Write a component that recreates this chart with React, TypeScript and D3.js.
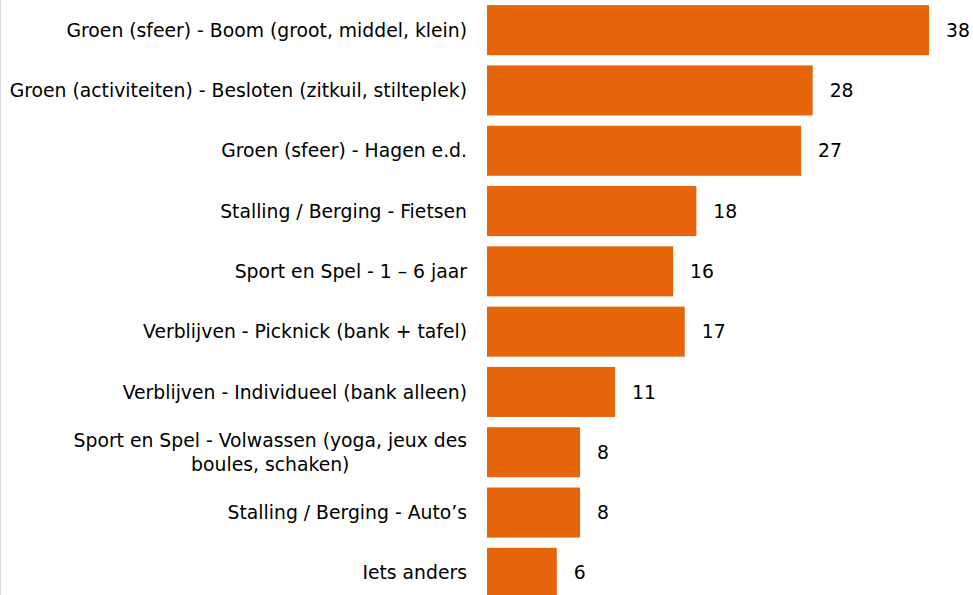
import React, { useEffect, useRef } from 'react';
import * as d3 from 'd3';

const categories: string[][] = [
  ['Groen (sfeer) - Boom (groot, middel, klein)'],
  ['Groen (activiteiten) - Besloten (zitkuil, stilteplek)'],
  ['Groen (sfeer) - Hagen e.d.'],
  ['Stalling / Berging - Fietsen'],
  ['Sport en Spel - 1 – 6 jaar'],
  ['Verblijven - Picknick (bank + tafel)'],
  ['Verblijven - Individueel (bank alleen)'],
  ['Sport en Spel - Volwassen (yoga, jeux des', 'boules, schaken)'],
  ['Stalling / Berging - Auto’s'],
  ['Iets anders'],
];
const values = [38, 28, 27, 18, 16, 17, 11, 8, 8, 6];

const W = 973;
const H = 595;

export default function App() {
  const svgRef = useRef<SVGSVGElement>(null);

  useEffect(() => {
    if (!svgRef.current) return;
    const svg = d3.select(svgRef.current);
    svg.selectAll('*').remove();

    const ids = d3.range(values.length).map(String);
    const y = d3.scaleBand().domain(ids).range([0, 603]).paddingInner(0.17).paddingOuter(0.085);
    const x = d3.scaleLinear().domain([0, 38]).range([487, 929]);

    const font = '"DejaVu Sans", Verdana, sans-serif';
    const fontSize = 18.8;

    // left border
    svg.append('line')
      .attr('x1', 0.5).attr('x2', 0.5).attr('y1', 0).attr('y2', H)
      .attr('stroke', '#d9d9d9').attr('stroke-width', 1);

    const rows = svg.selectAll('g.row').data(values).enter().append('g').attr('class', 'row');

    rows.append('rect')
      .attr('x', x(0))
      .attr('y', (_, i) => y(String(i))!)
      .attr('width', (d) => x(d) - x(0))
      .attr('height', y.bandwidth())
      .attr('fill', '#E6640A');

    rows.append('text')
      .attr('x', (d) => x(d) + 17)
      .attr('y', (_, i) => y(String(i))! + y.bandwidth() / 2)
      .attr('dy', '0.35em')
      .style('font-family', font)
      .style('font-size', `${fontSize}px`)
      .attr('fill', '#000')
      .text((d) => d);

    // category labels
    categories.forEach((lines, i) => {
      const cy = y(String(i))! + y.bandwidth() / 2;
      const lh = 24;
      const t = svg.append('text')
        .style('font-family', font)
        .style('font-size', `${fontSize}px`)
        .attr('fill', '#000');
      if (lines.length === 1) {
        t.attr('x', 467).attr('y', cy).attr('dy', '0.35em').attr('text-anchor', 'end').text(lines[0]);
      } else {
        const spans = lines.map((ln, j) =>
          t.append('tspan')
            .attr('y', cy + (j - (lines.length - 1) / 2) * lh)
            .attr('dy', '0.35em')
            .text(ln)
        );
        const maxW = d3.max(spans, (s) => (s.node() as SVGTSpanElement).getComputedTextLength()) || 0;
        spans.forEach((s) => s.attr('x', 467 - maxW / 2).attr('text-anchor', 'middle'));
      }
    });
  }, []);

  return (
    <svg
      ref={svgRef}
      width={W}
      height={H}
      style={{ position: 'fixed', left: 0, top: 0, background: '#fff' }}
    />
  );
}
